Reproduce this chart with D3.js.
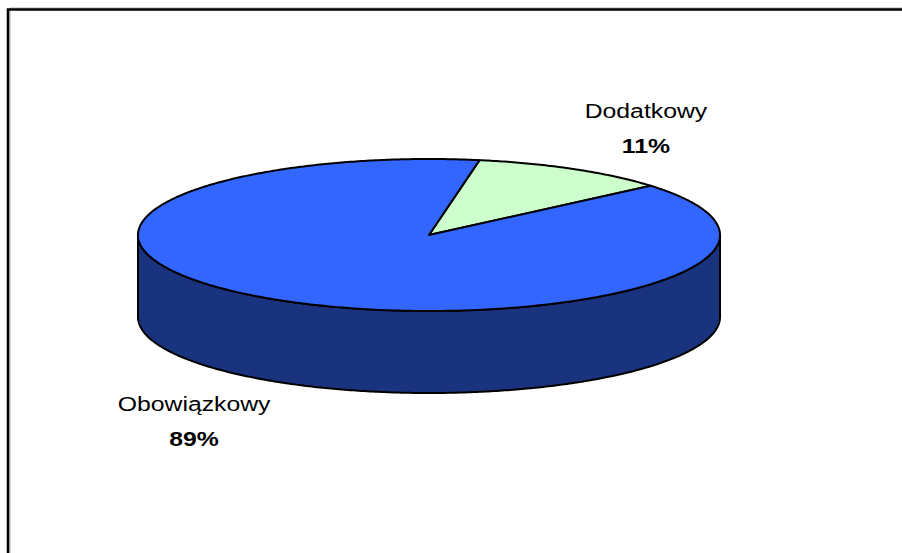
<!DOCTYPE html>
<html>
<head>
<meta charset="utf-8">
<script src="https://cdn.jsdelivr.net/npm/d3@7"></script>
<style>
  body { margin: 0; background: #fff; }
  svg { display: block; }
</style>
</head>
<body>
<div id="chart"></div>
<script>
// data
var categories = ["Dodatkowy", "Obowiązkowy"];
var values = [11, 89];
var percentLabels = ["11%", "89%"];
var topColors = ["#CCFFCC", "#3366FF"];
var sideColors = ["#99CC99", "#1A337F"];

var width = 902, height = 553;
var cx = 429, cy = 235, rx = 291, ry = 76, depth = 82;
var startDeg = 10;

document.addEventListener('DOMContentLoaded', function () {
    draw();
}, false);

function pt(a, dy) {
  return [cx + rx * Math.sin(a), cy - ry * Math.cos(a) + (dy || 0)];
}

function arcPoints(a0, a1, dy) {
  var pts = [];
  var n = Math.max(2, Math.ceil(Math.abs(a1 - a0) / 0.01));
  for (var i = 0; i <= n; i++) {
    pts.push(pt(a0 + (a1 - a0) * i / n, dy));
  }
  return pts;
}

function draw() {
  var svg = d3.select("#chart").append("svg")
    .attr("width", width)
    .attr("height", height);

  // chart area border (only top and left visible)
  svg.append("path")
    .attr("d", "M10," + height + " V8 H" + width)
    .attr("fill", "none")
    .attr("stroke", "#aaa")
    .attr("stroke-width", 1);
  svg.append("path")
    .attr("d", "M8," + height + " V9.5 H" + width)
    .attr("fill", "none")
    .attr("stroke", "#000")
    .attr("stroke-width", 2.5);

  var pie = d3.pie().sort(null)
    .startAngle(startDeg * Math.PI / 180)
    .endAngle(startDeg * Math.PI / 180 + 2 * Math.PI);
  var arcs = pie(values);

  var line = d3.line();

  // side walls (front half: angles PI/2 .. 3PI/2)
  var frontA = Math.PI / 2, frontB = 3 * Math.PI / 2;
  arcs.forEach(function (d, i) {
    [0, 2 * Math.PI].forEach(function (shift) {
      var a0 = Math.max(d.startAngle - shift, frontA);
      var a1 = Math.min(d.endAngle - shift, frontB);
      if (a1 <= a0) return;
      var topPts = arcPoints(a0, a1, 0);
      var botPts = arcPoints(a1, a0, depth);
      svg.append("path")
        .attr("d", line(topPts.concat(botPts)) + "Z")
        .attr("fill", sideColors[i])
        .attr("stroke", "#000")
        .attr("stroke-width", 2)
        .attr("stroke-linejoin", "round");
    });
  });

  // top faces
  arcs.forEach(function (d, i) {
    var pts = [[cx, cy]].concat(arcPoints(d.startAngle, d.endAngle, 0));
    svg.append("path")
      .attr("d", line(pts) + "Z")
      .attr("fill", topColors[i])
      .attr("stroke", "#000")
      .attr("stroke-width", 2)
      .attr("stroke-linejoin", "round");
  });

  // labels
  arcs.forEach(function (d, i) {
    var mid = (d.startAngle + d.endAngle) / 2;
    var c = Math.cos(mid);
    var lx = cx + rx * 1.5 * Math.sin(mid) + (c < 0 ? -18 : 0);
    var ly = cy - ry * 1.59 * c + (c < 0 ? depth + 1 : 0);
    var g = svg.append("g")
      .attr("transform", "translate(" + lx + "," + ly + ") scale(1.18,1)");
    g.append("text")
      .attr("y", -12)
      .attr("text-anchor", "middle")
      .style("font-family", "'Liberation Sans', Arial, sans-serif")
      .style("font-size", "21px")
      .attr("fill", "#000")
      .text(categories[i]);
    g.append("text")
      .attr("y", 23)
      .attr("text-anchor", "middle")
      .style("font-family", "'Liberation Sans', Arial, sans-serif")
      .style("font-size", "21px")
      .style("font-weight", "bold")
      .attr("fill", "#000")
      .text(percentLabels[i]);
  });
}
</script>
</body>
</html>
